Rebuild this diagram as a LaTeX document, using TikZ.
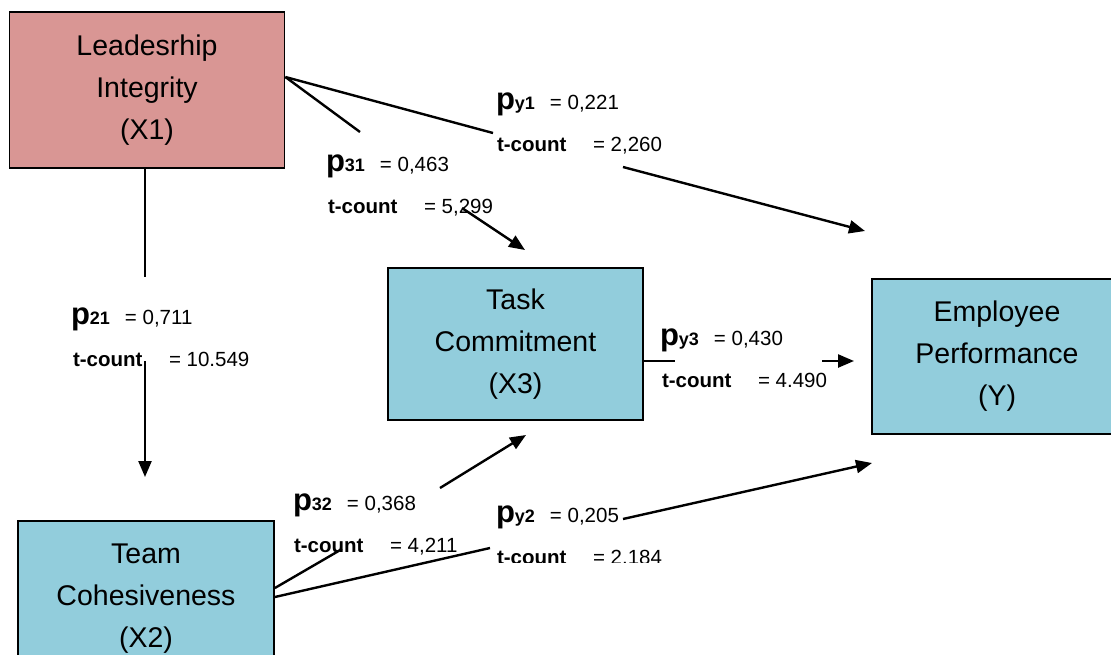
\documentclass[tikz,border=0pt]{standalone}
\usepackage{fontspec}
\setmainfont{Liberation Sans}
\usetikzlibrary{arrows.meta}
\definecolor{pinkc}{HTML}{D99694}
\definecolor{bluec}{HTML}{92CDDC}
\tikzset{
  box/.style={draw=black, line width=1.8pt, align=center, inner sep=0pt, font=\fontsize{28.5}{42}\selectfont},
  conn/.style={line width=2.4pt, line cap=butt},
  arr/.style={conn, -{Triangle[length=16pt,width=13pt]}},
  lbl/.style={anchor=base west, inner sep=0pt, outer sep=0pt},
}
\newcommand{\plab}[2]{{\fontsize{31}{31}\selectfont\bfseries p}{\fontsize{18}{18}\selectfont\bfseries #1}\hspace{15pt}{\fontsize{20.5}{20.5}\selectfont = #2}}
\newcommand{\tlab}[1]{{\fontsize{20.5}{20.5}\selectfont\makebox[96pt][l]{\bfseries t-count}= #1}}
\begin{document}
\begin{tikzpicture}[x=1pt,y=-1pt]
\useasboundingbox (0,0) rectangle (1111,654);
\clip (0,0) rectangle (1111,654);
\fill[white] (0,0) rectangle (1111,654);

% boxes
\node[box, fill=pinkc, minimum width=275pt, minimum height=156pt] (X1) at (147,90) {Leadesrhip\\Integrity\\(X1)};
\node[box, fill=bluec, minimum width=255pt, minimum height=152pt] (X3) at (515.5,344) {Task\\Commitment\\(X3)};
\node[box, fill=bluec, minimum width=250pt, minimum height=155pt] (Y) at (997,356.5) {Employee\\Performance\\(Y)};
\node[box, fill=bluec, minimum width=256pt, minimum height=156pt] (X2) at (146,599) {Team\\Cohesiveness\\(X2)};

% labels
\node[lbl] (Ly1) at (496,109) {\plab{y1}{0,221}};
\node[lbl] (Ty1) at (497,151) {\tlab{2,260}};
\node[lbl] (L31) at (326,171) {\plab{31}{0,463}};
\node[lbl] (T31) at (328,213) {\tlab{5,299}};
\node[lbl] (L21) at (71,324) {\plab{21}{0,711}};
\node[lbl] (T21) at (73,366) {\tlab{10.549}};
\node[lbl] (Ly3) at (660,345) {\plab{y3}{0,430}};
\node[lbl] (Ty3) at (662,387) {\tlab{4.490}};
\node[lbl] (L32) at (293,510) {\plab{32}{0,368}};
\node[lbl] (T32) at (294,552) {\tlab{4,211}};
\node[lbl] (Ly2) at (496,522) {\plab{y2}{0,205}};
\begin{scope}
\clip (480,530) rectangle (720,562);
\node[lbl] (Ty2) at (497,564) {\tlab{2.184}};
\end{scope}

% break points and arrow ends
\coordinate (b21a) at (145,277);
\coordinate (b21b) at (145,361);
\coordinate (t21) at (145,477);
\coordinate (b31a) at (360,132);
\coordinate (b31b) at (462,208);
\coordinate (t31) at (525,250);
\coordinate (by1a) at (493,133);
\coordinate (by1b) at (623,167);
\coordinate (ty1) at (865,231);
\coordinate (by3a) at (675,361);
\coordinate (by3b) at (822,361);
\coordinate (ty3) at (854,361);
\coordinate (b32a) at (342,549);
\coordinate (b32b) at (440,488);
\coordinate (t32) at (526,435);
\coordinate (by2a) at (490,548);
\coordinate (by2b) at (623,519);
\coordinate (ty2) at (872,463);

% connectors
\draw[conn] (X1.south -| b21a) -- (b21a);
\draw[arr] (b21b) -- (t21);
\draw[conn] ([yshift=13pt]X1.east) -- (b31a);
\draw[arr] (b31b) -- (t31);
\draw[conn] ([yshift=13pt]X1.east) -- (by1a);
\draw[arr] (by1b) -- (ty1);
\draw[conn] ([yshift=-17pt]X3.east) -- (by3a);
\draw[arr] (by3b) -- (ty3);
\draw[conn] ([yshift=11pt]X2.east) -- (b32a);
\draw[arr] (b32b) -- (t32);
\draw[conn] ([yshift=2pt]X2.east) -- (by2a);
\draw[arr] (by2b) -- (ty2);
\end{tikzpicture}
\end{document}
